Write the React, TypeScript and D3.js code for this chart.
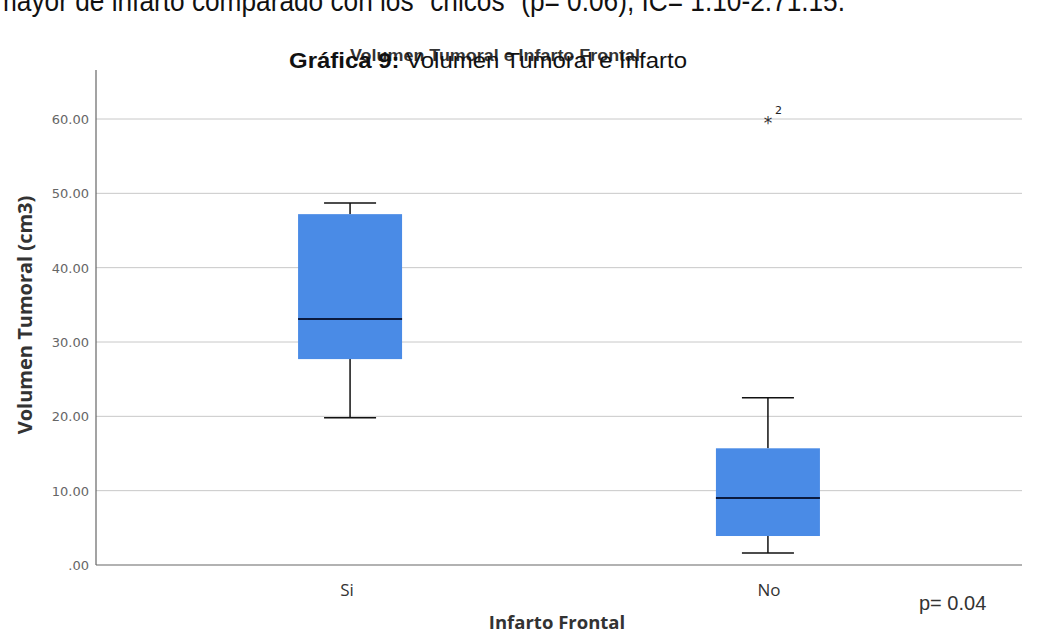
import React from "react";
import * as d3 from "d3";

const categories = ["Si", "No"];
const whiskerLow = [19.8, 1.6];
const q1 = [27.7, 3.9];
const median = [33.1, 9.0];
const q3 = [47.2, 15.7];
const whiskerHigh = [48.7, 22.5];
const outliers = [{ cat: "No", value: 60.0, label: "2" }];
const yTicks = [0, 10, 20, 30, 40, 50, 60];

const W = 1049;
const H = 630;

export default function App() {
  const y = d3.scaleLinear().domain([0, 60]).range([565, 119]);
  const x = d3.scalePoint<string>().domain(categories).range([96, 1022]).padding(0.608);
  const boxHalf = 52;
  const capHalf = 26;
  const fmt = (v: number) => (v === 0 ? ".00" : d3.format(".2f")(v));
  return (
    <svg width={W} height={H} style={{ position: "absolute", left: 0, top: 0, background: "#fff" }}>
      <rect x={0} y={0} width={W} height={H} fill="#fff" />
      <text x={-5} y={11} fontFamily="Liberation Sans, Arial, sans-serif" fontSize={30} fill="#111" textLength={850} lengthAdjust="spacingAndGlyphs">
        mayor de infarto comparado con los "chicos" (p= 0.06), IC= 1.10-2.71.15.
      </text>
      {/* gridlines */}
      {yTicks.filter((t) => t > 0).map((t) => (
        <line key={t} x1={96} x2={1022} y1={y(t)} y2={y(t)} stroke="#c8c8c8" strokeWidth={1} />
      ))}
      {/* axes */}
      <line x1={96} x2={96} y1={70} y2={565} stroke="#666" strokeWidth={1.2} />
      <line x1={96} x2={1022} y1={565} y2={565} stroke="#666" strokeWidth={1.2} />
      {yTicks.map((t) => (
        <text key={t} x={89} y={y(t) + 5} textAnchor="end" fontFamily="DejaVu Sans, sans-serif" fontSize={13} fill="#666">
          {fmt(t)}
        </text>
      ))}
      {/* boxes */}
      {categories.map((c, i) => {
        const cx = x(c)!;
        return (
          <g key={c}>
            <line x1={cx} x2={cx} y1={y(whiskerHigh[i])} y2={y(q3[i])} stroke="#111" strokeWidth={1.5} />
            <line x1={cx} x2={cx} y1={y(q1[i])} y2={y(whiskerLow[i])} stroke="#111" strokeWidth={1.5} />
            <line x1={cx - capHalf} x2={cx + capHalf} y1={y(whiskerHigh[i])} y2={y(whiskerHigh[i])} stroke="#111" strokeWidth={1.5} />
            <line x1={cx - capHalf} x2={cx + capHalf} y1={y(whiskerLow[i])} y2={y(whiskerLow[i])} stroke="#111" strokeWidth={1.5} />
            <rect x={cx - boxHalf} y={y(q3[i])} width={boxHalf * 2} height={y(q1[i]) - y(q3[i])} fill="#4a8be6" />
            <line x1={cx - boxHalf} x2={cx + boxHalf} y1={y(median[i])} y2={y(median[i])} stroke="#0b1a3e" strokeWidth={2} />
            <text x={i === 0 ? cx - 3 : cx + 1} y={596} textAnchor="middle" fontFamily="Open Sans, sans-serif" fontSize={17} fill="#333">
              {c}
            </text>
          </g>
        );
      })}
      {outliers.map((o, i) => (
        <g key={i}>
          <text x={x(o.cat)!} y={y(o.value) + 10} textAnchor="middle" fontFamily="DejaVu Sans, sans-serif" fontSize={17} fill="#333">*</text>
          <text x={x(o.cat)! + 7} y={y(o.value) - 5} fontFamily="DejaVu Sans, sans-serif" fontSize={11} fill="#222">{o.label}</text>
        </g>
      ))}
      {/* titles */}
      <text x={350} y={61} fontFamily="Liberation Sans, Arial, sans-serif" fontSize={17} fontWeight="bold" fill="#333" textLength={290} lengthAdjust="spacingAndGlyphs">
        Volumen Tumoral e Infarto Frontal
      </text>
      <text x={289} y={68} fontFamily="Liberation Sans, Arial, sans-serif" fontSize={22} fill="#111" textLength={398} lengthAdjust="spacingAndGlyphs">
        <tspan fontWeight="bold">Gráfica 9:</tspan> Volumen Tumoral e Infarto
      </text>
      <text transform={`translate(32,${315}) rotate(-90)`} textAnchor="middle" fontFamily="Open Sans, sans-serif" fontSize={20} fontWeight="bold" fill="#333">
        Volumen Tumoral (cm3)
      </text>
      <text x={557} y={629} textAnchor="middle" fontFamily="Open Sans, sans-serif" fontSize={18.5} fontWeight="bold" fill="#333">
        Infarto Frontal
      </text>
      <text x={919} y={610} fontFamily="Liberation Sans, Arial, sans-serif" fontSize={20} fill="#333">
        p= 0.04
      </text>
    </svg>
  );
}
